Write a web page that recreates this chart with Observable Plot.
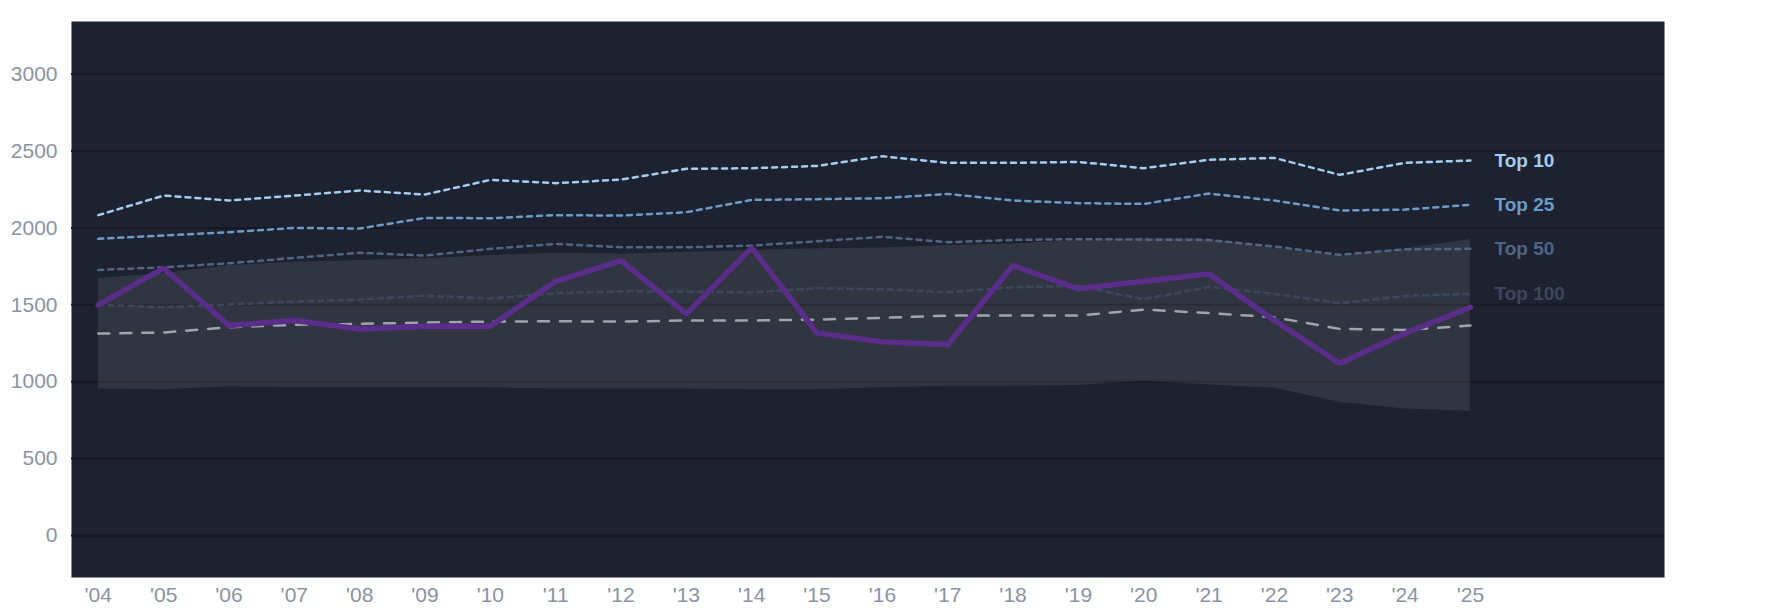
<!DOCTYPE html>
<html>
<head>
<meta charset="utf-8">
<script src="https://cdn.jsdelivr.net/npm/d3@7"></script>
<script src="https://cdn.jsdelivr.net/npm/@observablehq/plot@0.6"></script>
<style>
  html, body { margin: 0; padding: 0; background: #ffffff; }
  #chart svg { display: block; }
</style>
</head>
<body>
<div id="chart"></div>
<script>
const years = [2004,2005,2006,2007,2008,2009,2010,2011,2012,2013,2014,2015,2016,2017,2018,2019,2020,2021,2022,2023,2024,2025];
const top10  = [2083,2210,2178,2210,2243,2217,2312,2291,2314,2384,2388,2403,2466,2423,2423,2429,2388,2443,2455,2345,2423,2438];
const top25  = [1929,1950,1972,2000,1996,2065,2063,2083,2080,2102,2182,2187,2193,2221,2178,2161,2156,2223,2178,2113,2119,2150];
const top50  = [1727,1744,1770,1805,1838,1820,1864,1896,1874,1874,1885,1913,1942,1907,1922,1927,1924,1922,1879,1825,1861,1864];
const top100 = [1500,1484,1502,1521,1534,1560,1541,1575,1588,1586,1580,1608,1601,1582,1614,1623,1536,1616,1571,1510,1558,1571];
const medianLine = [1313,1320,1354,1370,1376,1385,1391,1393,1391,1398,1398,1404,1415,1430,1430,1430,1469,1446,1419,1343,1337,1365];
const mainLine = [1500,1738,1365,1398,1343,1361,1361,1653,1788,1441,1870,1317,1259,1242,1755,1604,1653,1701,1398,1120,1315,1484];
const bandHigh = [1669,1705,1755,1777,1788,1799,1820,1835,1831,1842,1853,1864,1870,1885,1896,1918,1935,1927,1870,1815,1865,1924];
const bandLow  = [953,947,968,960,960,960,960,953,953,953,947,947,960,971,971,975,1003,979,958,867,823,808];
const yTicks = [0,500,1000,1500,2000,2500,3000];
const tierNames = ["Top 10","Top 25","Top 50","Top 100"];
const tierSeries = [top10, top25, top50, top100];
const tierColors = ["#a4cdf0","#6b9cc8","#516582","#3c475e"];

const band = years.map((y,i) => ({year: y, lo: bandLow[i], hi: bandHigh[i]}));
const tiers = tierNames.map((name, k) => years.map((y,i) => ({year: y, value: tierSeries[k][i], name})));
const median = years.map((y,i) => ({year: y, value: medianLine[i]}));
const main = years.map((y,i) => ({year: y, value: mainLine[i]}));
const lastLabels = tierNames.map((name,k) => ({year: years[years.length-1], value: tierSeries[k][years.length-1], name, color: tierColors[k]}));

const chart = Plot.plot({
  width: 1785,
  height: 614,
  marginLeft: 71,
  marginRight: 121,
  marginTop: 21,
  marginBottom: 37,
  style: {fontFamily: "'Liberation Sans', Arial, sans-serif", background: "transparent", overflow: "visible"},
  x: {type: "linear", domain: [2003.59, 2027.97], label: null},
  y: {domain: [-273, 3342], label: null},
  marks: [
    Plot.frame({fill: "#1d2130", stroke: null}),
    Plot.gridY(yTicks, {stroke: "#151821", strokeOpacity: 1, strokeWidth: 2}),
    Plot.areaY(band, {x: "year", y1: "lo", y2: "hi", fill: "#ffffff", fillOpacity: 0.09}),
    ...tiers.map((t,k) => Plot.line(t, {x: "year", y: "value", stroke: tierColors[k], strokeWidth: 2.5, strokeDasharray: "5,5"})),
    Plot.line(median, {x: "year", y: "value", stroke: "#a0a4ad", strokeWidth: 2.5, strokeDasharray: "11,11"}),
    Plot.line(main, {x: "year", y: "value", stroke: "#5a2d8a", strokeWidth: 5.5, strokeLinejoin: "miter"}),
    Plot.text(lastLabels, {x: "year", y: "value", text: "name", fill: "color", dx: 24, textAnchor: "start", fontWeight: "bold", fontSize: 19, lineAnchor: "middle"}),
    Plot.axisY(yTicks, {tickSize: 0, tickPadding: 14, fontSize: 21, fill: "#8a93a6", textAnchor: "end", tickFormat: d => String(d), label: null}),
    Plot.axisX(years, {tickSize: 0, tickPadding: 10, fontSize: 21, fill: "#8a93a6", tickFormat: d => "'" + String(d).slice(2), label: null})
  ]
});
document.getElementById("chart").appendChild(chart);
</script>
</body>
</html>
